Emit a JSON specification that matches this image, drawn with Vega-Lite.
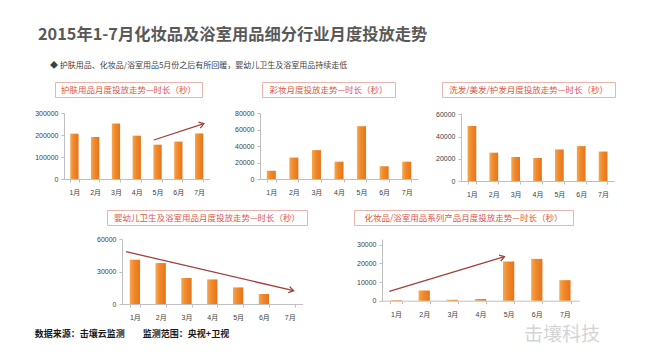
{
  "$schema": "https://vega.github.io/schema/vega-lite/v6.json",
  "background": "white",
  "padding": {"left": 20, "top": 20, "right": 5, "bottom": 2},
  "config": {
    "view": {"stroke": null},
    "font": "Liberation Sans, Noto Sans CJK SC",
    "axis": {
      "labelFont": "Liberation Sans, Noto Sans CJK SC",
      "labelFontSize": 7,
      "labelColor": "#404040",
      "domainColor": "#bfbfbf",
      "tickColor": "#bfbfbf",
      "tickSize": 3,
      "grid": false
    },
    "axisX": {"labelAngle": 0, "tickBand": "extent", "labelPadding": 6.5},
    "axisY": {"labelPadding": 3, "format": "d"}
  },
  "spacing": 0,
  "vconcat": [
    {
      "spacing": 0, "bounds": "flush",
      "hconcat": [
        {"width": 36, "height": 29.5, "data": {"values": [{"t": "2015年1-7月化妆品及浴室用品细分行业月度投放走势"}]}, "mark": {"type": "text", "align": "left", "font": "Noto Sans CJK SC", "fontSize": 16.3, "fontWeight": "bold", "color": "#595959"}, "encoding": {"text": {"field": "t"}}}
      ]
    },
    {
      "spacing": 0, "bounds": "flush",
      "hconcat": [
        {"width": 60, "height": 31, "data": {"values": [{"t": "◆ 护肤用品、化妆品/浴室用品5月份之后有所回暖，婴幼儿卫生及浴室用品持续走低"}]}, "mark": {"type": "text", "align": "left", "font": "Noto Sans CJK SC", "fontSize": 8, "color": "#404040"}, "encoding": {"text": {"field": "t"}}},
        {"width": 1, "height": 31, "data": {"values": [{}]}, "mark": {"type": "rect", "opacity": 0}, "encoding": {}}
      ]
    },
    {
      "spacing": 0, "bounds": "flush",
      "hconcat": [
        {"width": 35, "height": 27, "data": {"values": [{}]}, "mark": {"type": "rect", "opacity": 0}, "encoding": {}},
        {"width": 147, "height": 15, "data": {"values": [{"t": "护肤用品月度投放走势—时长（秒）"}]}, "mark": {"type": "text", "font": "Noto Sans CJK SC", "fontSize": 8.5, "color": "#e0553f"}, "encoding": {"text": {"field": "t"}}, "view": {"stroke": "#eab5ad", "strokeWidth": 1}},
        {"width": 60, "height": 1, "data": {"values": [{}]}, "mark": {"type": "rect", "opacity": 0}, "encoding": {}},
        {"width": 133, "height": 15, "data": {"values": [{"t": "彩妆月度投放走势—时长（秒）"}]}, "mark": {"type": "text", "font": "Noto Sans CJK SC", "fontSize": 8.5, "color": "#e0553f"}, "encoding": {"text": {"field": "t"}}, "view": {"stroke": "#eab5ad", "strokeWidth": 1}},
        {"width": 47, "height": 1, "data": {"values": [{}]}, "mark": {"type": "rect", "opacity": 0}, "encoding": {}},
        {"width": 173, "height": 15, "data": {"values": [{"t": "洗发/美发/护发月度投放走势—时长（秒）"}]}, "mark": {"type": "text", "font": "Noto Sans CJK SC", "fontSize": 8.5, "color": "#e0553f"}, "encoding": {"text": {"field": "t"}}, "view": {"stroke": "#eab5ad", "strokeWidth": 1}}
      ]
    },
    {
      "spacing": 0, "bounds": "flush",
      "hconcat": [
        {"width": 43.5, "height": 95.5, "data": {"values": [{}]}, "mark": {"type": "rect", "opacity": 0}, "encoding": {}},
        {
          "width": 145.5, "height": 66,
          "layer": [
            {
              "data": {"values": [
                {"month": "1月", "value": 206000}, {"month": "2月", "value": 191000}, {"month": "3月", "value": 252000},
                {"month": "4月", "value": 197000}, {"month": "5月", "value": 156000}, {"month": "6月", "value": 170000},
                {"month": "7月", "value": 207000}
              ]},
              "mark": {"type": "bar", "color": {"gradient": "linear", "x1": 0, "y1": 0, "x2": 1, "y2": 0, "stops": [{"offset": 0, "color": "#f6a850"}, {"offset": 0.4, "color": "#f08a2c"}, {"offset": 1, "color": "#e6741a"}]}},
              "encoding": {
                "x": {"field": "month", "type": "ordinal", "sort": null, "scale": {"paddingInner": 0.6, "paddingOuter": 0.3}, "axis": {"title": null}},
                "y": {"field": "value", "type": "quantitative", "scale": {"domain": [0, 300000], "nice": false}, "axis": {"title": null, "values": [0, 100000, 200000, 300000]}}
              }
            },
            {
              "data": {"values": [{"x0": 4.82, "y0": 177300, "x1": 7.23, "y1": 251400}]},
              "mark": {"type": "rule", "color": "#a0403c", "strokeWidth": 1.3},
              "encoding": {
                "x": {"field": "x0", "type": "quantitative", "scale": {"domain": [0.5, 7.5], "nice": false, "zero": false}, "axis": null},
                "x2": {"field": "x1"},
                "y": {"field": "y0", "type": "quantitative", "scale": {"domain": [0, 300000], "nice": false}, "axis": {"title": null, "values": [0, 100000, 200000, 300000]}},
                "y2": {"field": "y1"}
              }
            },
            {
              "data": {"values": [{"x0": 4.82, "y0": 177300, "x1": 7.23, "y1": 251400}]},
              "mark": {"type": "point", "shape": "M-1,-0.65L0,0L-1,0.65", "size": 90, "angle": 342, "color": "#a0403c", "strokeWidth": 1.3, "filled": false, "opacity": 1},
              "encoding": {
                "x": {"field": "x1", "type": "quantitative", "scale": {"domain": [0.5, 7.5], "nice": false, "zero": false}, "axis": null},
                "y": {"field": "y1", "type": "quantitative", "scale": {"domain": [0, 300000], "nice": false}, "axis": {"title": null, "values": [0, 100000, 200000, 300000]}}
              }
            }
          ],
          "resolve": {"scale": {"x": "independent"}}
        },
        {"width": 50, "height": 1, "data": {"values": [{}]}, "mark": {"type": "rect", "opacity": 0}, "encoding": {}},
        {
          "width": 158, "height": 66,
          "data": {"values": [
            {"month": "1月", "value": 10000}, {"month": "2月", "value": 26000}, {"month": "3月", "value": 35000},
            {"month": "4月", "value": 21000}, {"month": "5月", "value": 64000}, {"month": "6月", "value": 15500},
            {"month": "7月", "value": 21000}
          ]},
          "mark": {"type": "bar", "color": {"gradient": "linear", "x1": 0, "y1": 0, "x2": 1, "y2": 0, "stops": [{"offset": 0, "color": "#f6a850"}, {"offset": 0.4, "color": "#f08a2c"}, {"offset": 1, "color": "#e6741a"}]}},
          "encoding": {
            "x": {"field": "month", "type": "ordinal", "sort": null, "scale": {"paddingInner": 0.6, "paddingOuter": 0.3}, "axis": {"title": null}},
            "y": {"field": "value", "type": "quantitative", "scale": {"domain": [0, 80000], "nice": false}, "axis": {"title": null, "values": [0, 20000, 40000, 60000, 80000]}}
          }
        },
        {"width": 43, "height": 1, "data": {"values": [{}]}, "mark": {"type": "rect", "opacity": 0}, "encoding": {}},
        {
          "width": 153, "height": 68,
          "data": {"values": [
            {"month": "1月", "value": 49500}, {"month": "2月", "value": 25500}, {"month": "3月", "value": 21600},
            {"month": "4月", "value": 20700}, {"month": "5月", "value": 28400}, {"month": "6月", "value": 31400},
            {"month": "7月", "value": 26500}
          ]},
          "mark": {"type": "bar", "color": {"gradient": "linear", "x1": 0, "y1": 0, "x2": 1, "y2": 0, "stops": [{"offset": 0, "color": "#f6a850"}, {"offset": 0.4, "color": "#f08a2c"}, {"offset": 1, "color": "#e6741a"}]}},
          "encoding": {
            "x": {"field": "month", "type": "ordinal", "sort": null, "scale": {"paddingInner": 0.6, "paddingOuter": 0.3}, "axis": {"title": null}},
            "y": {"field": "value", "type": "quantitative", "scale": {"domain": [0, 61200], "nice": false}, "axis": {"title": null, "values": [0, 20000, 40000, 60000]}}
          }
        }
      ]
    },
    {
      "spacing": 0, "bounds": "flush",
      "hconcat": [
        {"width": 87, "height": 24.4, "data": {"values": [{}]}, "mark": {"type": "rect", "opacity": 0}, "encoding": {}},
        {"width": 200, "height": 15, "data": {"values": [{"t": "婴幼儿卫生及浴室用品月度投放走势—时长（秒）"}]}, "mark": {"type": "text", "font": "Noto Sans CJK SC", "fontSize": 8.5, "color": "#e0553f"}, "encoding": {"text": {"field": "t"}}, "view": {"stroke": "#eab5ad", "strokeWidth": 1}},
        {"width": 47, "height": 1, "data": {"values": [{}]}, "mark": {"type": "rect", "opacity": 0}, "encoding": {}},
        {"width": 219, "height": 15, "data": {"values": [{"t": "化妆品/浴室用品系列产品月度投放走势—时长（秒）"}]}, "mark": {"type": "text", "font": "Noto Sans CJK SC", "fontSize": 8.5, "color": "#e0553f"}, "encoding": {"text": {"field": "t"}}, "view": {"stroke": "#eab5ad", "strokeWidth": 1}}
      ]
    },
    {
      "spacing": 0, "bounds": "flush",
      "hconcat": [
        {"width": 101.8, "height": 84.7, "data": {"values": [{}]}, "mark": {"type": "rect", "opacity": 0}, "encoding": {}},
        {
          "width": 180.6, "height": 65,
          "layer": [
            {
              "data": {"values": [
                {"month": "1月", "value": 40900}, {"month": "2月", "value": 37800}, {"month": "3月", "value": 24000},
                {"month": "4月", "value": 22700}, {"month": "5月", "value": 15300}, {"month": "6月", "value": 9200},
                {"month": "7月", "value": 0}
              ]},
              "mark": {"type": "bar", "color": {"gradient": "linear", "x1": 0, "y1": 0, "x2": 1, "y2": 0, "stops": [{"offset": 0, "color": "#f6a850"}, {"offset": 0.4, "color": "#f08a2c"}, {"offset": 1, "color": "#e6741a"}]}},
              "encoding": {
                "x": {"field": "month", "type": "ordinal", "sort": null, "scale": {"paddingInner": 0.6, "paddingOuter": 0.3}, "axis": {"title": null}},
                "y": {"field": "value", "type": "quantitative", "scale": {"domain": [0, 60000], "nice": false}, "axis": {"title": null, "values": [0, 30000, 60000]}}
              }
            },
            {
              "data": {"values": [{"x0": 0.66, "y0": 48300, "x1": 7.15, "y1": 12300}]},
              "mark": {"type": "rule", "color": "#a0403c", "strokeWidth": 1.3},
              "encoding": {
                "x": {"field": "x0", "type": "quantitative", "scale": {"domain": [0.5, 7.5], "nice": false, "zero": false}, "axis": null},
                "x2": {"field": "x1"},
                "y": {"field": "y0", "type": "quantitative", "scale": {"domain": [0, 60000], "nice": false}, "axis": {"title": null, "values": [0, 30000, 60000]}},
                "y2": {"field": "y1"}
              }
            },
            {
              "data": {"values": [{"x0": 0.66, "y0": 48300, "x1": 7.15, "y1": 12300}]},
              "mark": {"type": "point", "shape": "M-1,-0.65L0,0L-1,0.65", "size": 90, "angle": 13, "color": "#a0403c", "strokeWidth": 1.3, "filled": false, "opacity": 1},
              "encoding": {
                "x": {"field": "x1", "type": "quantitative", "scale": {"domain": [0.5, 7.5], "nice": false, "zero": false}, "axis": null},
                "y": {"field": "y1", "type": "quantitative", "scale": {"domain": [0, 60000], "nice": false}, "axis": {"title": null, "values": [0, 30000, 60000]}}
              }
            }
          ],
          "resolve": {"scale": {"x": "independent"}}
        },
        {"width": 78.6, "height": 1, "data": {"values": [{}]}, "mark": {"type": "rect", "opacity": 0}, "encoding": {}},
        {
          "width": 197, "height": 61.7,
          "layer": [
            {
              "data": {"values": [
                {"month": "1月", "value": 300}, {"month": "2月", "value": 5400}, {"month": "3月", "value": 500},
                {"month": "4月", "value": 900}, {"month": "5月", "value": 21000}, {"month": "6月", "value": 22400},
                {"month": "7月", "value": 11000}
              ]},
              "mark": {"type": "bar", "color": {"gradient": "linear", "x1": 0, "y1": 0, "x2": 1, "y2": 0, "stops": [{"offset": 0, "color": "#f6a850"}, {"offset": 0.4, "color": "#f08a2c"}, {"offset": 1, "color": "#e6741a"}]}},
              "encoding": {
                "x": {"field": "month", "type": "ordinal", "sort": null, "scale": {"paddingInner": 0.6, "paddingOuter": 0.3}, "axis": {"title": null}},
                "y": {"field": "value", "type": "quantitative", "scale": {"domain": [0, 33050], "nice": false}, "axis": {"title": null, "values": [0, 10000, 20000, 30000]}}
              }
            },
            {
              "data": {"values": [{"x0": 0.76, "y0": 4980, "x1": 4.85, "y1": 23570}]},
              "mark": {"type": "rule", "color": "#a0403c", "strokeWidth": 1.3},
              "encoding": {
                "x": {"field": "x0", "type": "quantitative", "scale": {"domain": [0.5, 7.5], "nice": false, "zero": false}, "axis": null},
                "x2": {"field": "x1"},
                "y": {"field": "y0", "type": "quantitative", "scale": {"domain": [0, 33050], "nice": false}, "axis": {"title": null, "values": [0, 10000, 20000, 30000]}},
                "y2": {"field": "y1"}
              }
            },
            {
              "data": {"values": [{"x0": 0.76, "y0": 4980, "x1": 4.85, "y1": 23570}]},
              "mark": {"type": "point", "shape": "M-1,-0.65L0,0L-1,0.65", "size": 90, "angle": 343, "color": "#a0403c", "strokeWidth": 1.3, "filled": false, "opacity": 1},
              "encoding": {
                "x": {"field": "x1", "type": "quantitative", "scale": {"domain": [0.5, 7.5], "nice": false, "zero": false}, "axis": null},
                "y": {"field": "y1", "type": "quantitative", "scale": {"domain": [0, 33050], "nice": false}, "axis": {"title": null, "values": [0, 10000, 20000, 30000]}}
              }
            }
          ],
          "resolve": {"scale": {"x": "independent"}}
        }
      ]
    },
    {
      "spacing": 0, "bounds": "flush",
      "hconcat": [
        {"width": 224, "height": 19.4, "data": {"values": [{"t": "数据来源：击壤云监测　　监测范围：央视+卫视"}]}, "mark": {"type": "text", "font": "Noto Sans CJK SC", "fontSize": 9, "fontWeight": "bold", "color": "#1a1a1a"}, "encoding": {"text": {"field": "t"}}},
        {"width": 277.5, "height": 1, "data": {"values": [{}]}, "mark": {"type": "rect", "opacity": 0}, "encoding": {}},
        {"width": 80, "height": 21.5, "data": {"values": [{"t": "击壤科技"}]}, "mark": {"type": "text", "font": "Noto Sans CJK SC", "fontSize": 19, "color": "#d4d4d4"}, "encoding": {"text": {"field": "t"}}}
      ]
    }
  ]
}
